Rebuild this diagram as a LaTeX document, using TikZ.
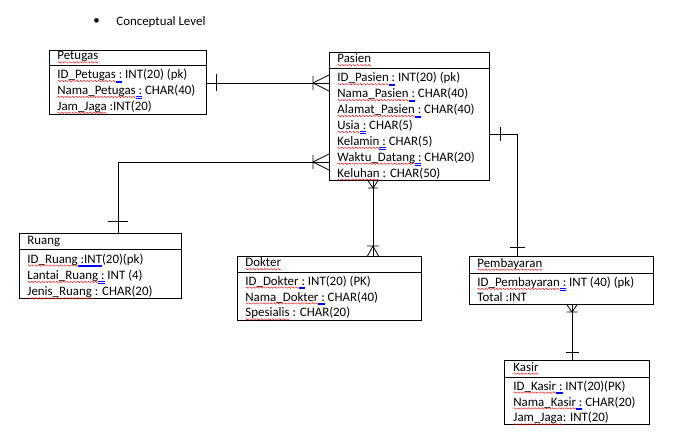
\documentclass[tikz,border=0pt]{standalone}
\usepackage{fontspec}
\setmainfont{Carlito}
\newsavebox{\wavebox}
\newcommand{\rw}[1]{\setbox0=\hbox{#1}\leavevmode\rlap{\raisebox{-3.3pt}{\hbox to \wd0{\xleaders\copy\wavebox\hfil}}}\box0\relax}
\newcommand{\bu}[1]{\setbox0=\hbox{#1}\leavevmode\rlap{\color{blue}\rule[-3.6pt]{\wd0}{0.45pt}}\rlap{\color{blue}\rule[-2.3pt]{\wd0}{0.45pt}}\box0\relax}
\begin{document}
\sbox{\wavebox}{\begin{pgfpicture}\pgfsetlinewidth{0.45pt}\pgfsetstrokecolor{red}\pgfpathmoveto{\pgfpoint{0pt}{0pt}}\pgfpathlineto{\pgfpoint{0.75pt}{0.7pt}}\pgfpathlineto{\pgfpoint{2.25pt}{-0.7pt}}\pgfpathlineto{\pgfpoint{3pt}{0pt}}\pgfusepath{stroke}\end{pgfpicture}}%
\begin{tikzpicture}[x=1pt,y=-1pt, line width=0.8pt,
  box/.style={draw, anchor=north west, inner sep=0pt, outer sep=0pt},
  txt/.style={anchor=west, inner sep=0pt, align=left, font=\fontsize{12.9}{15.9}\selectfont},
]
\useasboundingbox (0,0) rectangle (674,436);

% title
\node[txt] (bullet) at (93,22) {\textbullet};
\node[txt] (title) at (116,22) {Conceptual Level};

% Petugas
\node[box, minimum width=157pt, minimum height=15pt] (petugasH) at (49,50) {};
\node[box, minimum width=157pt, minimum height=49pt] (petugasB) at (petugasH.south west) {};
\node[txt] (petugasT) at ([xshift=8pt]petugasH.west) {\rw{Petugas}};
\node[txt] (petugasR) at ([xshift=8pt,yshift=-2pt]petugasB.west) {\rw{ID\_Petugas}\bu{\ :} INT(20) (pk)\\\rw{Nama\_Petugas}\bu{\ :} CHAR(40)\\\rw{Jam\_Jaga} :INT(20)};

% Pasien
\node[box, minimum width=160pt, minimum height=16pt] (pasienH) at (329,52) {};
\node[box, minimum width=160pt, minimum height=112pt] (pasienB) at (pasienH.south west) {};
\node[txt] (pasienT) at ([xshift=8pt]pasienH.west) {\rw{Pasien}};
\node[txt] (pasienR) at ([xshift=8pt,yshift=-2.5pt]pasienB.west) {\rw{ID\_Pasien}\bu{\ :} INT(20) (pk)\\\rw{Nama\_Pasien}\bu{\ :} CHAR(40)\\\rw{Alamat\_Pasien}\bu{\ :} CHAR(40)\\\rw{Usia}\bu{\ :} CHAR(5)\\\rw{Kelamin}\bu{\ :} CHAR(5)\\\rw{Waktu\_Datang}\bu{\ :} CHAR(20)\\\rw{Keluhan} : CHAR(50)};

% Ruang
\node[box, minimum width=162pt, minimum height=16pt] (ruangH) at (19,233) {};
\node[box, minimum width=162pt, minimum height=49pt] (ruangB) at (ruangH.south west) {};
\node[txt] (ruangT) at ([xshift=8pt]ruangH.west) {Ruang};
\node[txt, font=\fontsize{12.9}{16.4}\selectfont] (ruangR) at ([xshift=8pt,yshift=-3pt]ruangB.west) {\rw{ID\_Ruang}\bu{ :INT}(20)(pk)\\\rw{Lantai\_Ruang}\bu{\ :} INT (4)\\\rw{Jenis\_Ruang} : CHAR(20)};

% Dokter
\node[box, minimum width=184pt, minimum height=16pt] (dokterH) at (237,256) {};
\node[box, minimum width=184pt, minimum height=48pt] (dokterB) at (dokterH.south west) {};
\node[txt] (dokterT) at ([xshift=8pt]dokterH.west) {\rw{Dokter}};
\node[txt] (dokterR) at ([xshift=8pt,yshift=-2pt]dokterB.west) {\rw{ID\_Dokter}\bu{\ :} INT(20) (PK)\\\rw{Nama\_Dokter}\bu{\ :} CHAR(40)\\\rw{Spesialis} : CHAR(20)};

% Pembayaran
\node[box, minimum width=184pt, minimum height=17pt] (bayarH) at (469,256) {};
\node[box, minimum width=184pt, minimum height=31pt] (bayarB) at (bayarH.south west) {};
\node[txt] (bayarT) at ([xshift=8pt]bayarH.west) {\rw{Pembayaran}};
\node[txt, font=\fontsize{12.9}{15.2}\selectfont] (bayarR) at ([xshift=8pt,yshift=-1pt]bayarB.west) {\rw{ID\_Pembayaran}\bu{\ :} INT (40) (pk)\\Total :INT};

% Kasir
\node[box, minimum width=145pt, minimum height=17pt] (kasirH) at (504,360) {};
\node[box, minimum width=145pt, minimum height=47pt] (kasirB) at (kasirH.south west) {};
\node[txt] (kasirT) at ([xshift=9pt]kasirH.west) {\rw{Kasir}};
\node[txt] (kasirR) at ([xshift=9pt,yshift=-2.5pt]kasirB.west) {\rw{ID\_Kasir}\bu{\ :} INT(20)(PK)\\\rw{Nama\_Kasir}\bu{\ :} CHAR(20)\\\rw{Jam\_Jaga}: INT(20)};

% Petugas -- Pasien
\coordinate (a1) at ([yshift=-18pt]petugasB.north east);
\coordinate (a2) at (pasienB.west |- a1);
\draw (a1) -- (a2);
\draw (a1) ++(10,-9) -- ++(0,17);
\draw (a2) ++(-16,0) -- ++(16,-8) (a2) ++(-16,0) -- ++(16,8) (a2) ++(-16,-7) -- ++(0,14);

% Pasien -- Ruang
\coordinate (b1) at ([yshift=-94pt]pasienB.north west);
\coordinate (b2) at ([xshift=99pt]ruangH.north west);
\draw (b1) -| (b2);
\draw (b2) ++(-10,-12) -- ++(20,0);
\draw (b1) ++(-16,0) -- ++(16,-8) (b1) ++(-16,0) -- ++(16,8) (b1) ++(-16,-7) -- ++(0,14);

% Pasien -- Dokter
\coordinate (c1) at ([xshift=44pt]pasienB.south west);
\coordinate (c2) at (dokterH.north -| c1);
\draw (c1) -- (c2);
\draw (c1) ++(0,8) -- ++(-5.5,-8) (c1) ++(0,8) -- ++(5.5,-8) (c1) ++(-5,8) -- ++(10,0);
\draw (c2) ++(0,-10) -- ++(-5.5,10) (c2) ++(0,-10) -- ++(5.5,10) (c2) ++(-6,-10) -- ++(12,0);

% Pasien -- Pembayaran
\coordinate (d1) at ([yshift=-66pt]pasienB.north east);
\coordinate (d2) at ([xshift=48pt]bayarH.north west);
\draw (d1) -| (d2);
\draw (d1) ++(11,-7) -- ++(0,14);
\draw (d2) ++(-7.5,-9) -- ++(15,0);

% Pembayaran -- Kasir
\coordinate (e1) at ([xshift=103pt]bayarB.south west);
\coordinate (e2) at (kasirH.north -| e1);
\draw (e1) -- (e2);
\draw (e1) ++(0,8) -- ++(-5.5,-8) (e1) ++(0,8) -- ++(5.5,-8) (e1) ++(-5.5,8) -- ++(11,0);
\draw (e2) ++(-6.5,-8) -- ++(13,0);
\end{tikzpicture}
\end{document}
